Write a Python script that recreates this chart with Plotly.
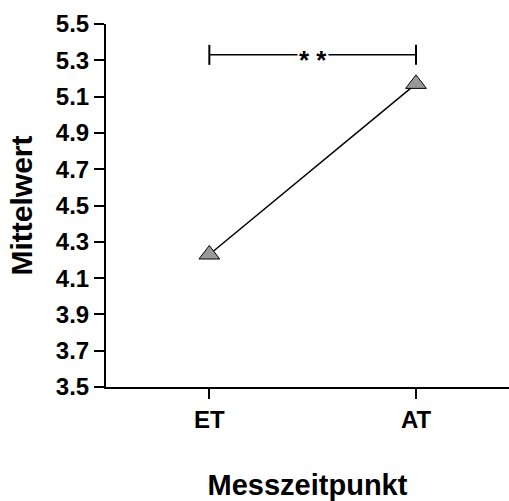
import plotly.graph_objects as go

categories = ["ET", "AT"]
means = [4.23, 5.17]
y_ticks = [3.5, 3.7, 3.9, 4.1, 4.3, 4.5, 4.7, 4.9, 5.1, 5.3, 5.5]
bracket_y = 5.33
bracket_tick_half = 0.055
sig_label = "* *"

FONT = "Liberation Sans, Arial, sans-serif"

fig = go.Figure()
fig.add_trace(go.Scatter(
    x=[0, 1], y=means, mode="lines+markers",
    line=dict(color="black", width=1.5),
    marker=dict(symbol="triangle-up", size=18, color="#999999",
                line=dict(color="black", width=1)),
    showlegend=False, cliponaxis=False, hoverinfo="skip",
))

# significance bracket
fig.add_shape(type="line", xref="x", yref="y", x0=0, x1=1, y0=bracket_y, y1=bracket_y,
              line=dict(color="black", width=1.5))
for xi in (0, 1):
    fig.add_shape(type="line", xref="x", yref="y", x0=xi, x1=xi,
                  y0=bracket_y - bracket_tick_half, y1=bracket_y + bracket_tick_half,
                  line=dict(color="black", width=2))
fig.add_annotation(x=0.5, y=bracket_y, xref="x", yref="y", text=sig_label, showarrow=False,
                   bgcolor="white", font=dict(size=26, color="black", family=FONT, weight="bold"),
                   yshift=-5, borderpad=1)

fig.update_layout(
    width=509, height=501,
    margin=dict(l=106, r=0, t=24, b=114),
    paper_bgcolor="white", plot_bgcolor="white",
    font=dict(family=FONT, color="black", size=22, weight="bold"),
    xaxis=dict(
        range=[-0.5, 1.45], tickmode="array", tickvals=[0, 1], ticktext=categories,
        showline=True, linecolor="black", linewidth=2, ticks="outside", ticklen=10,
        tickwidth=1.5, tickcolor="black", showgrid=False, zeroline=False,
        automargin=False,
        tickfont=dict(size=24, family=FONT, weight="bold"),
        title=dict(text="Messzeitpunkt", standoff=43,
                   font=dict(size=29, family=FONT, weight="bold")),
    ),
    yaxis=dict(
        range=[3.5, 5.5], tickmode="array", tickvals=y_ticks,
        ticktext=[f"{v:.1f}" for v in y_ticks],
        showline=True, linecolor="black", linewidth=2, ticks="outside", ticklen=10,
        tickwidth=1.5, tickcolor="black", showgrid=False, zeroline=False,
        automargin=False,
        tickfont=dict(size=24, family=FONT, weight="bold"),
        title=dict(text="Mittelwert", standoff=14,
                   font=dict(size=30, family=FONT, weight="bold")),
    ),
)

fig.write_html("out.html", config={"displayModeBar": False},
               post_script="document.body.style.margin='0';document.body.style.overflow='hidden';")
